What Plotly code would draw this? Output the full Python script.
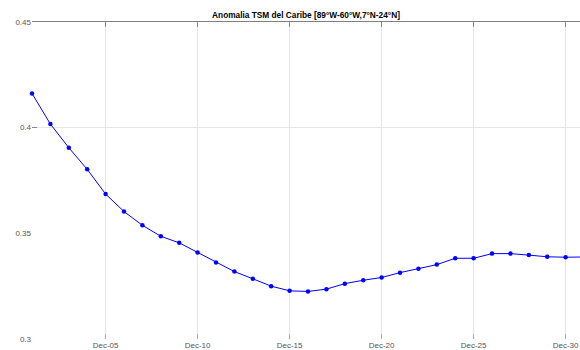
import pandas as pd
import plotly.graph_objects as go

# Daily Caribbean SST anomaly, December
dates = pd.date_range("2023-12-01", "2023-12-31", freq="D")
anomaly = [0.4162, 0.4017, 0.3905, 0.3803, 0.3686, 0.3603, 0.3538, 0.3486,
           0.3455, 0.3409, 0.3362, 0.3319, 0.3285, 0.3250, 0.3228, 0.3225,
           0.3236, 0.3262, 0.3278, 0.3291, 0.3314, 0.3332, 0.3352, 0.3382,
           0.3382, 0.3404, 0.3404, 0.3397, 0.3389, 0.3387, 0.3388]

title_text = "Anomalia TSM del Caribe [89°W-60°W,7°N-24°N]"
x_ticks = pd.to_datetime(["2023-12-05", "2023-12-10", "2023-12-15",
                          "2023-12-20", "2023-12-25", "2023-12-30"])
y_ticks = [0.3, 0.35, 0.4, 0.45]
y_ticklabels = ["0.3", "0.35", "0.4", "0.45"]
y_grid_ticks = [0.4]

x_range = ["2023-12-01 00:00", "2023-12-30 18:45"]
y_range = [0.3, 0.45]

FONT = "Liberation Sans, Arial, Helvetica, sans-serif"
BLUE = "#0000ff"

fig = go.Figure()
fig.add_trace(go.Scatter(
    x=dates, y=anomaly, mode="lines+markers",
    line=dict(color=BLUE, width=1),
    marker=dict(color=BLUE, size=4.5),
    cliponaxis=False, showlegend=False,
))
# companion trace that anchors the top/left overlay axes
fig.add_trace(go.Scatter(
    x=dates, y=anomaly, mode="lines", xaxis="x2", yaxis="y2",
    line=dict(width=0), opacity=0, hoverinfo="skip", showlegend=False,
))

fig.update_layout(
    width=580, height=350,
    margin=dict(l=32, r=0, t=22, b=11),
    paper_bgcolor="white", plot_bgcolor="white",
    font=dict(family=FONT, size=8, color="#555555"),
    title=dict(
        text=title_text, x=0.5, xref="paper", xanchor="center",
        y=1 - 15 / 350, yref="container", yanchor="middle",
        font=dict(family=FONT, size=8.3, color="black", weight="bold"),
    ),
    xaxis=dict(
        type="date", range=x_range, tickvals=x_ticks, tickformat="%b-%d",
        ticks="inside", ticklen=5, tickcolor="#aaaaaa",
        showgrid=True, gridcolor="#e6e6e6", gridwidth=1,
        showline=False, zeroline=False,
        tickfont=dict(size=8, color="#555555"),
    ),
    xaxis2=dict(
        type="date", range=x_range, tickvals=x_ticks, overlaying="x",
        side="top", anchor="y2",
        ticks="inside", ticklen=5, tickcolor="#888888",
        showticklabels=False, showgrid=False, zeroline=False,
        showline=True, linecolor="#808080", linewidth=1.3,
    ),
    yaxis=dict(
        range=y_range, tickvals=y_ticks, ticktext=y_ticklabels,
        ticks="", showgrid=False, zeroline=False, showline=False,
        tickfont=dict(size=8, color="#555555"),
    ),
    yaxis2=dict(
        range=y_range, tickvals=y_grid_ticks, overlaying="y",
        side="left", anchor="x2",
        ticks="inside", ticklen=5, tickcolor="#888888",
        showticklabels=False, showgrid=True, gridcolor="#e6e6e6",
        zeroline=False, showline=False,
    ),
)

fig.write_html("out.html")
